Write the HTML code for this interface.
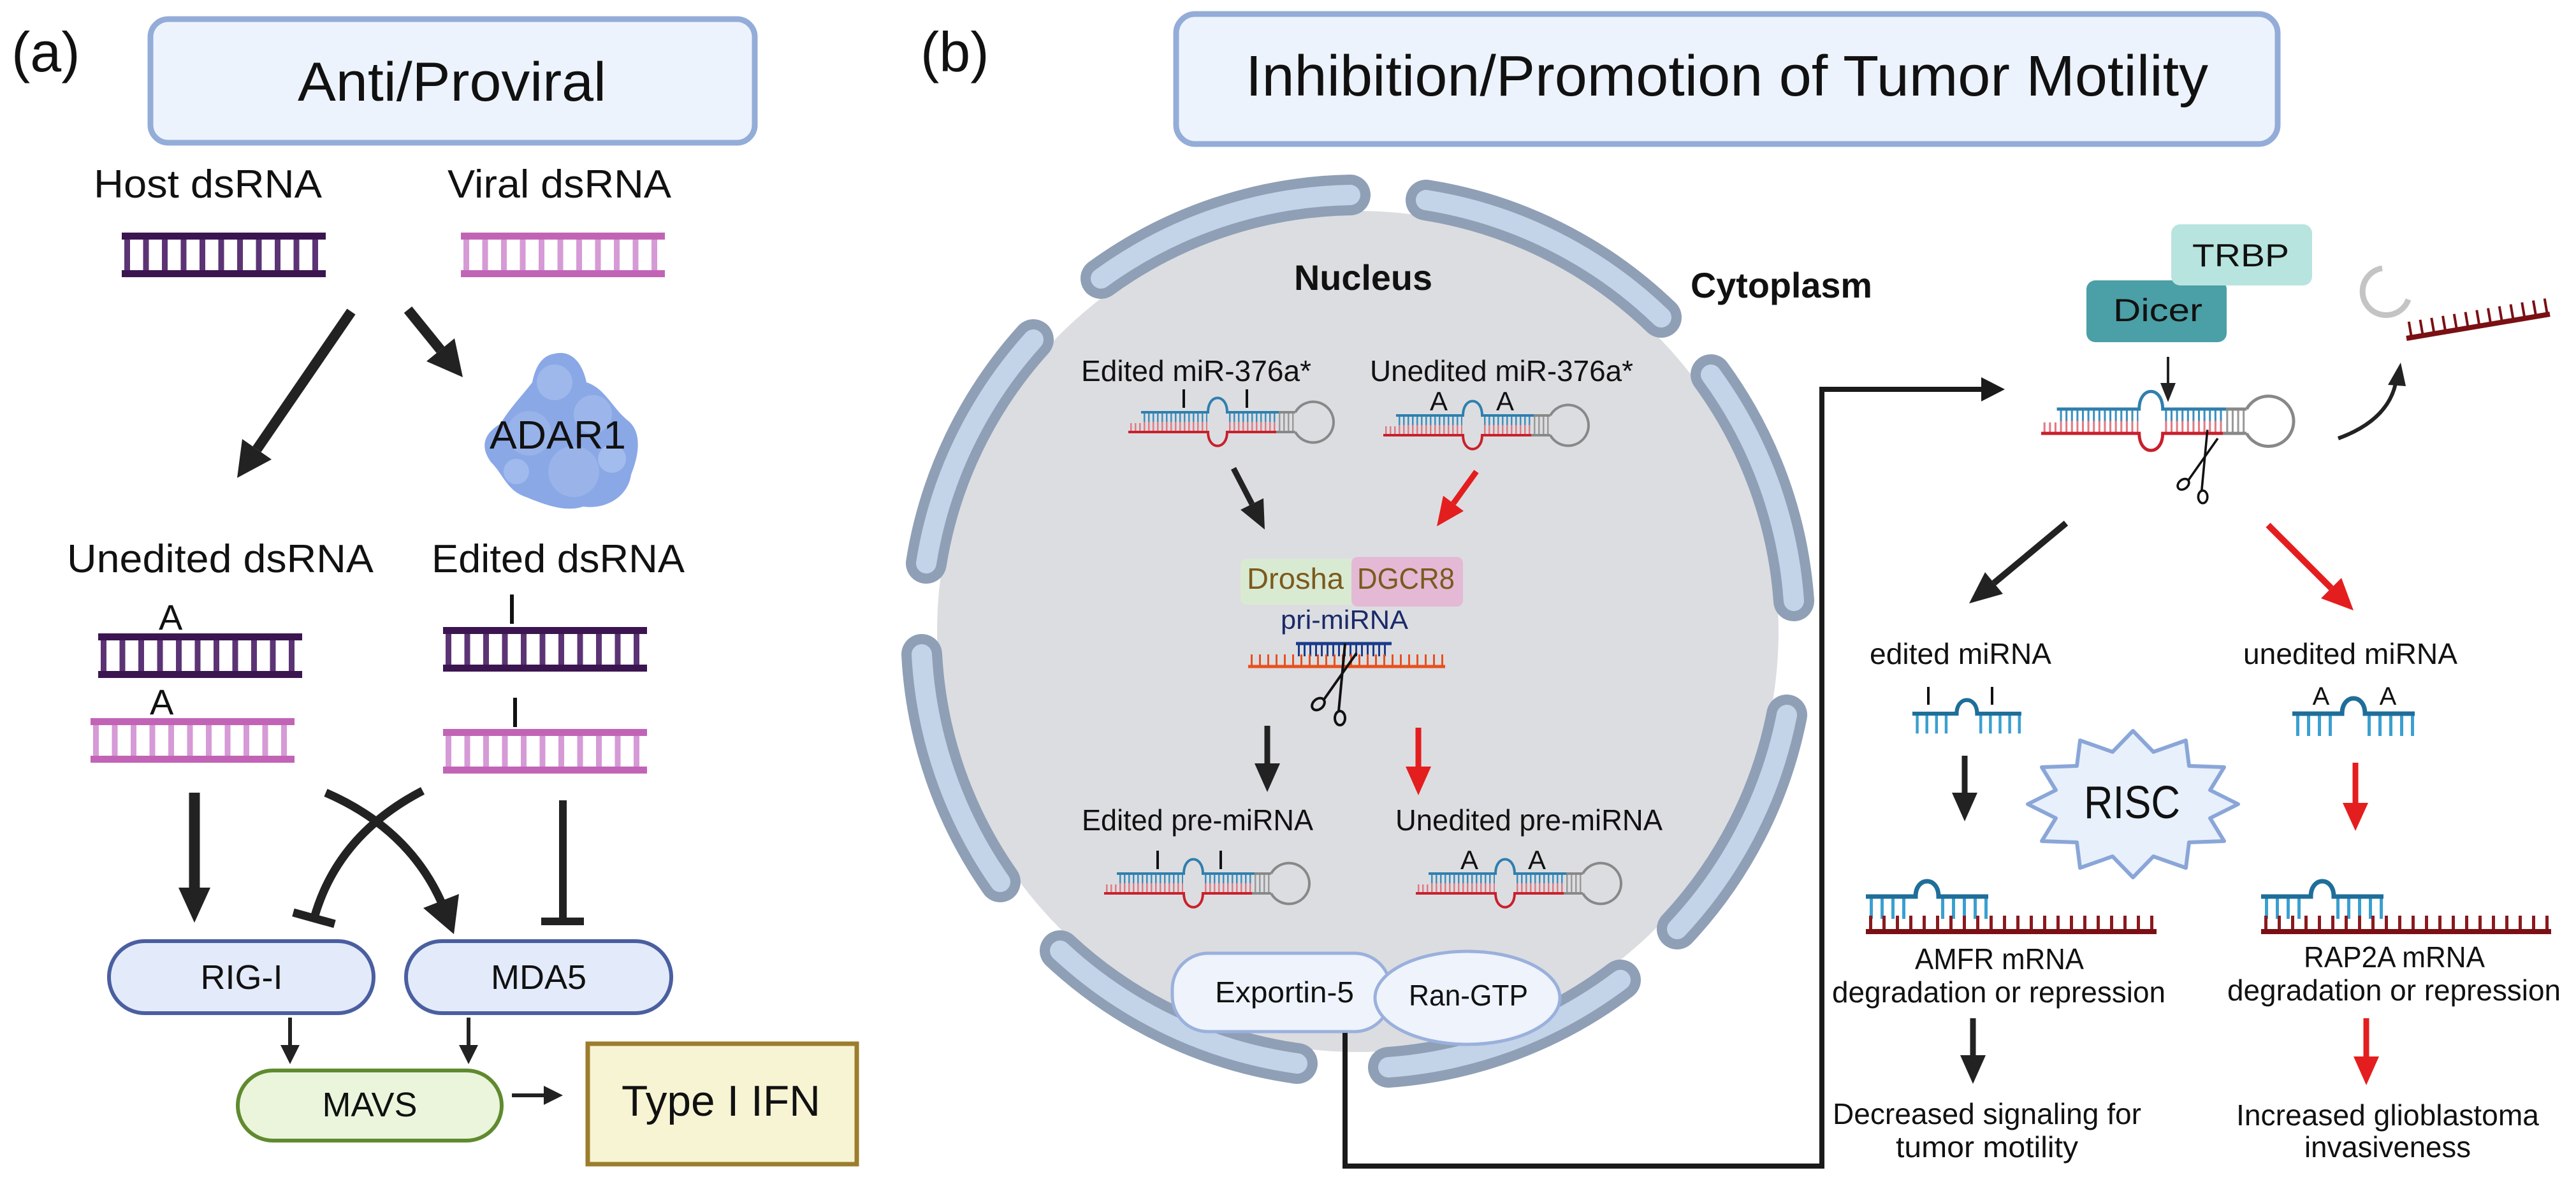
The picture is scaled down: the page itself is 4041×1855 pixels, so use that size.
<!DOCTYPE html>
<html><head><meta charset="utf-8"><style>html,body{margin:0;padding:0;background:#fff}svg{display:block}text{font-family:"Liberation Sans",sans-serif;fill:#111}</style></head>
<body>
<svg width="4041" height="1855" viewBox="0 0 4041 1855" xmlns="http://www.w3.org/2000/svg">
<defs>
<g id="ladD"><line x1="4" y1="35" x2="320" y2="35" stroke="#5c3475" stroke-width="52" stroke-dasharray="9 20.5"/><rect x="0" y="0" width="320" height="11" fill="#3b1550"/><rect x="0" y="59" width="320" height="11" fill="#3b1550"/></g>
<g id="ladP"><line x1="4" y1="35" x2="320" y2="35" stroke="#d69ad6" stroke-width="52" stroke-dasharray="9 20.5"/><rect x="0" y="0" width="320" height="11" fill="#c264b6"/><rect x="0" y="59" width="320" height="11" fill="#c264b6"/></g>
<g id="hp">
<line x1="24" y1="8" x2="124" y2="8" stroke="#3a8fbf" stroke-width="16" stroke-dasharray="2.5 4.5"/>
<line x1="24" y1="23" x2="124" y2="23" stroke="#e07a84" stroke-width="16" stroke-dasharray="2.5 4.5"/>
<line x1="158" y1="8" x2="232" y2="8" stroke="#3a8fbf" stroke-width="16" stroke-dasharray="2.5 4.5"/>
<line x1="158" y1="23" x2="232" y2="23" stroke="#e07a84" stroke-width="16" stroke-dasharray="2.5 4.5"/>
<line x1="3" y1="24" x2="22" y2="24" stroke="#e07a84" stroke-width="14" stroke-dasharray="2.5 4.5"/>
<line x1="236" y1="15" x2="262" y2="15" stroke="#999" stroke-width="30" stroke-dasharray="2.5 4.5"/>
<path d="M20,0 H125 C125,-30 155,-30 155,0 H236" stroke="#2f7fae" stroke-width="4" fill="none"/>
<path d="M0,31 H125 C125,60 155,60 155,31 H232" stroke="#c8202c" stroke-width="4" fill="none"/>
<path d="M236,0 H262 M232,31 H262" stroke="#888" stroke-width="4"/>
<path d="M262,0 A32 32 0 1 1 262,31" stroke="#888" stroke-width="4" fill="none"/>
</g>
<g id="mi">
<line x1="6" y1="18" x2="74" y2="18" stroke="#3aa0d0" stroke-width="34" stroke-dasharray="5 12"/>
<line x1="118" y1="18" x2="192" y2="18" stroke="#3aa0d0" stroke-width="34" stroke-dasharray="5 12"/>
<path d="M0,0 H78 C78,-32 114,-32 114,0 H192" stroke="#1f6e99" stroke-width="7" fill="none"/>
</g>
<g id="sc" fill="none" stroke="#111" stroke-width="4">
<ellipse cx="-30" cy="0" rx="11" ry="8" transform="rotate(-40 -30 0)"/>
<ellipse cx="4" cy="22" rx="8" ry="11"/>
<line x1="-22" y1="-6" x2="30" y2="-80"/>
<line x1="2" y1="11" x2="12" y2="-95"/>
</g>
</defs>

<!-- ============ PANEL A ============ -->
<text x="18" y="112" font-size="88">(a)</text>
<rect x="236" y="30" width="948" height="194" rx="28" fill="#edf3fc" stroke="#94acd8" stroke-width="9"/>
<text x="467" y="158" font-size="86" textLength="484" lengthAdjust="spacingAndGlyphs">Anti/Proviral</text>
<text x="147" y="310" font-size="62" textLength="358" lengthAdjust="spacingAndGlyphs">Host dsRNA</text>
<text x="702" y="310" font-size="62" textLength="351" lengthAdjust="spacingAndGlyphs">Viral dsRNA</text>
<use href="#ladD" x="191" y="365"/>
<use href="#ladP" x="723" y="365"/>

<line x1="551" y1="489" x2="403" y2="705" stroke="#222" stroke-width="16"/>
<polygon points="372,750 426,721 380,689" fill="#222"/>
<line x1="640" y1="486" x2="691" y2="549" stroke="#222" stroke-width="16"/>
<polygon points="726,592 713,531 669,567" fill="#222"/>

<g>
<path d="M870,555 C900,548 915,575 920,600 C950,610 960,640 985,660 C1010,680 1000,720 990,745 C985,780 950,800 915,795 C885,805 850,790 825,780 C795,770 790,745 770,725 C752,700 760,680 785,665 C800,640 820,620 835,600 C840,575 850,558 870,555 Z" fill="#8aa8e6"/>
<circle cx="870" cy="600" r="28" fill="#9fb8ec"/><circle cx="830" cy="680" r="35" fill="#98b2ea"/><circle cx="930" cy="650" r="30" fill="#9cb6ec"/><circle cx="900" cy="740" r="40" fill="#9ab4ea"/><circle cx="960" cy="720" r="22" fill="#a3bcee"/><circle cx="810" cy="740" r="20" fill="#a0baee"/>
</g>
<text x="768" y="704" font-size="62" textLength="214" lengthAdjust="spacingAndGlyphs">ADAR1</text>

<text x="105" y="898" font-size="62" textLength="481" lengthAdjust="spacingAndGlyphs">Unedited dsRNA</text>
<text x="677" y="898" font-size="62" textLength="397" lengthAdjust="spacingAndGlyphs">Edited dsRNA</text>

<text x="249" y="988" font-size="56">A</text>
<use href="#ladD" x="154" y="994"/>
<text x="235" y="1121" font-size="56">A</text>
<use href="#ladP" x="142" y="1127"/>
<rect x="800" y="933" width="6" height="46" fill="#111"/>
<use href="#ladD" x="695" y="984"/>
<rect x="805" y="1095" width="6" height="46" fill="#111"/>
<use href="#ladP" x="695" y="1144"/>

<line x1="305" y1="1244" x2="305" y2="1395" stroke="#222" stroke-width="17"/>
<polygon points="305,1448 280,1393 330,1393" fill="#222"/>
<path d="M663,1241 Q530,1310 493,1440" stroke="#222" stroke-width="13" fill="none"/>
<line x1="460" y1="1432" x2="525" y2="1450" stroke="#222" stroke-width="13"/>
<path d="M511,1244 Q640,1300 692,1415" stroke="#222" stroke-width="13" fill="none"/>
<polygon points="712,1466 720,1403 664,1425" fill="#222"/>
<line x1="883" y1="1256" x2="883" y2="1446" stroke="#222" stroke-width="12"/>
<line x1="849" y1="1446" x2="916" y2="1446" stroke="#222" stroke-width="12"/>

<rect x="171" y="1477" width="415" height="113" rx="56" fill="#e3eafa" stroke="#4a5fa0" stroke-width="6"/>
<text x="379" y="1552" font-size="54" text-anchor="middle">RIG-I</text>
<rect x="637" y="1477" width="416" height="113" rx="56" fill="#e3eafa" stroke="#4a5fa0" stroke-width="6"/>
<text x="845" y="1552" font-size="54" text-anchor="middle">MDA5</text>

<line x1="455" y1="1597" x2="455" y2="1645" stroke="#222" stroke-width="6"/>
<polygon points="455,1670 440,1640 470,1640" fill="#222"/>
<line x1="735" y1="1597" x2="735" y2="1645" stroke="#222" stroke-width="6"/>
<polygon points="735,1670 720,1640 750,1640" fill="#222"/>

<rect x="373" y="1680" width="414" height="110" rx="55" fill="#eaf5dc" stroke="#5f8a2e" stroke-width="6"/>
<text x="580" y="1752" font-size="54" text-anchor="middle">MAVS</text>
<line x1="803" y1="1719" x2="858" y2="1719" stroke="#222" stroke-width="6"/>
<polygon points="883,1719 853,1704 853,1734" fill="#222"/>
<rect x="922" y="1638" width="422" height="189" fill="#f7f4d4" stroke="#9c7d2c" stroke-width="7"/>
<text x="975" y="1751" font-size="68" textLength="312" lengthAdjust="spacingAndGlyphs">Type I IFN</text>

<!-- ============ PANEL B ============ -->
<text x="1444" y="112" font-size="88">(b)</text>
<rect x="1845" y="22" width="1728" height="204" rx="30" fill="#edf3fc" stroke="#94acd8" stroke-width="9"/>
<text x="1954" y="150" font-size="90" textLength="1510" lengthAdjust="spacingAndGlyphs">Inhibition/Promotion of Tumor Motility</text>

<circle cx="2130" cy="991" r="660" fill="#dcdde0"/>
<g fill="none" stroke-linecap="round">
<g stroke="#8f9fb6" stroke-width="64">
<path d="M1727,437 A685 685 0 0 1 2118,306"/>
<path d="M2237,314 A685 685 0 0 1 2606,498"/>
<path d="M2684,588 A685 685 0 0 1 2814,943"/>
<path d="M2803,1122 A685 685 0 0 1 2631,1458"/>
<path d="M2542,1538 A685 685 0 0 1 2178,1675"/>
<path d="M2035,1669 A685 685 0 0 1 1663,1492"/>
<path d="M1569,1384 A685 685 0 0 1 1446,1027"/>
<path d="M1453,884 A685 685 0 0 1 1621,533"/>
</g>
<g stroke="#c3d3e8" stroke-width="32">
<path d="M1727,437 A685 685 0 0 1 2118,306"/>
<path d="M2237,314 A685 685 0 0 1 2606,498"/>
<path d="M2684,588 A685 685 0 0 1 2814,943"/>
<path d="M2803,1122 A685 685 0 0 1 2631,1458"/>
<path d="M2542,1538 A685 685 0 0 1 2178,1675"/>
<path d="M2035,1669 A685 685 0 0 1 1663,1492"/>
<path d="M1569,1384 A685 685 0 0 1 1446,1027"/>
<path d="M1453,884 A685 685 0 0 1 1621,533"/>
</g>
</g>

<text x="2030" y="455" font-size="56" font-weight="bold" textLength="217" lengthAdjust="spacingAndGlyphs">Nucleus</text>
<text x="2652" y="467" font-size="56" font-weight="bold" textLength="285" lengthAdjust="spacingAndGlyphs">Cytoplasm</text>

<text x="1696" y="598" font-size="46" textLength="361" lengthAdjust="spacingAndGlyphs">Edited miR-376a*</text>
<text x="2149" y="598" font-size="46" textLength="413" lengthAdjust="spacingAndGlyphs">Unedited miR-376a*</text>
<rect x="1855" y="611" width="4" height="29" fill="#111"/><rect x="1954" y="611" width="4" height="29" fill="#111"/>
<use href="#hp" transform="translate(1770,647)"/>
<text x="2257" y="644" font-size="42" text-anchor="middle">A</text><text x="2361" y="644" font-size="42" text-anchor="middle">A</text>
<use href="#hp" transform="translate(2170,652)"/>

<line x1="1935" y1="735" x2="1964" y2="791" stroke="#222" stroke-width="9"/>
<polygon points="1984,831 1982,782 1946,800" fill="#222"/>
<line x1="2316" y1="740" x2="2280" y2="790" stroke="#e41e1e" stroke-width="9"/>
<polygon points="2254,826 2296,802 2264,778" fill="#e41e1e"/>

<rect x="1946" y="877" width="180" height="72" rx="10" fill="#d9ead2"/>
<rect x="2120" y="874" width="175" height="78" rx="10" fill="#e3b9d5"/>
<text x="1956" y="924" font-size="46" style="fill:#7b5a1e" textLength="152" lengthAdjust="spacingAndGlyphs">Drosha</text>
<text x="2129" y="924" font-size="46" style="fill:#7b5a1e" textLength="153" lengthAdjust="spacingAndGlyphs">DGCR8</text>
<text x="2009" y="987" font-size="42" style="fill:#1a2a6a" textLength="200" lengthAdjust="spacingAndGlyphs">pri-miRNA</text>
<line x1="2036" y1="1020" x2="2180" y2="1020" stroke="#1a3a8a" stroke-width="20" stroke-dasharray="3 6"/>
<line x1="2033" y1="1010" x2="2183" y2="1010" stroke="#1a3a8a" stroke-width="5"/>
<line x1="1962" y1="1036" x2="2267" y2="1036" stroke="#e8501e" stroke-width="18" stroke-dasharray="3 10"/>
<line x1="1958" y1="1046" x2="2267" y2="1046" stroke="#e8501e" stroke-width="5"/>
<use href="#sc" transform="translate(2098,1105)"/>

<line x1="1988" y1="1139" x2="1988" y2="1200" stroke="#222" stroke-width="9"/>
<polygon points="1988,1243 1968,1198 2008,1198" fill="#222"/>
<line x1="2225" y1="1142" x2="2225" y2="1205" stroke="#e41e1e" stroke-width="9"/>
<polygon points="2225,1248 2205,1203 2245,1203" fill="#e41e1e"/>

<text x="1697" y="1303" font-size="46" textLength="363" lengthAdjust="spacingAndGlyphs">Edited pre-miRNA</text>
<text x="2189" y="1303" font-size="46" textLength="419" lengthAdjust="spacingAndGlyphs">Unedited pre-miRNA</text>
<rect x="1814" y="1335" width="4" height="29" fill="#111"/><rect x="1913" y="1335" width="4" height="29" fill="#111"/>
<use href="#hp" transform="translate(1732,1371)"/>
<text x="2305" y="1364" font-size="42" text-anchor="middle">A</text><text x="2411" y="1364" font-size="42" text-anchor="middle">A</text>
<use href="#hp" transform="translate(2221,1371)"/>

<rect x="1839" y="1496" width="342" height="123" rx="56" fill="#eef3fc" stroke="#9ab0dc" stroke-width="5"/>
<ellipse cx="2302" cy="1566" rx="145" ry="73" fill="#eef3fc" stroke="#9ab0dc" stroke-width="5"/>
<text x="1906" y="1573" font-size="46" textLength="218" lengthAdjust="spacingAndGlyphs">Exportin-5</text>
<text x="2210" y="1578" font-size="46" textLength="187" lengthAdjust="spacingAndGlyphs">Ran-GTP</text>

<polyline points="2110,1621 2110,1830 2858,1830 2858,611 3112,611" fill="none" stroke="#1a1a1a" stroke-width="8"/>
<polygon points="3145,611 3108,592 3108,630" fill="#1a1a1a"/>

<rect x="3273" y="440" width="220" height="97" rx="14" fill="#4b9fa6"/>
<rect x="3406" y="352" width="221" height="96" rx="14" fill="#b8e4df"/>
<text x="3439" y="418" font-size="50" textLength="152" lengthAdjust="spacingAndGlyphs">TRBP</text>
<text x="3315" y="504" font-size="50" textLength="140" lengthAdjust="spacingAndGlyphs">Dicer</text>
<line x1="3401" y1="560" x2="3401" y2="603" stroke="#222" stroke-width="4"/>
<polygon points="3401,631 3389,601 3413,601" fill="#222"/>
<use href="#hp" transform="translate(3202,642) scale(1.23)"/>
<use href="#sc" transform="translate(3452,760) scale(0.9)"/>
<path d="M3668,688 Q3745,660 3758,602" stroke="#222" stroke-width="6" fill="none"/>
<polygon points="3766,569 3746,604 3774,606" fill="#222"/>
<path d="M3737,421 A37 37 0 1 0 3778,470" stroke="#c4c4c4" stroke-width="9" fill="none"/>
<line x1="3779" y1="518" x2="3996" y2="481" stroke="#7a1014" stroke-width="26" stroke-dasharray="4 14"/>
<line x1="3775" y1="531" x2="4000" y2="493" stroke="#7a1014" stroke-width="8"/>

<line x1="3241" y1="821" x2="3128" y2="915" stroke="#222" stroke-width="10"/>
<polygon points="3089,947 3142,932 3114,898" fill="#222"/>
<line x1="3558" y1="824" x2="3657" y2="923" stroke="#e41e1e" stroke-width="10"/>
<polygon points="3692,958 3673,907 3641,939" fill="#e41e1e"/>

<text x="2933" y="1042" font-size="46" textLength="285" lengthAdjust="spacingAndGlyphs">edited miRNA</text>
<text x="3519" y="1042" font-size="46" textLength="336" lengthAdjust="spacingAndGlyphs">unedited miRNA</text>
<rect x="3023" y="1078" width="4" height="28" fill="#111"/><rect x="3123" y="1078" width="4" height="28" fill="#111"/>
<use href="#mi" transform="translate(3000,1120) scale(0.89)"/>
<text x="3641" y="1106" font-size="40" text-anchor="middle">A</text><text x="3746" y="1106" font-size="40" text-anchor="middle">A</text>
<use href="#mi" transform="translate(3596,1120)"/>

<line x1="3082" y1="1186" x2="3082" y2="1246" stroke="#222" stroke-width="9"/>
<polygon points="3082,1289 3062,1244 3102,1244" fill="#222"/>
<line x1="3695" y1="1197" x2="3695" y2="1262" stroke="#e41e1e" stroke-width="9"/>
<polygon points="3695,1304 3675,1260 3715,1260" fill="#e41e1e"/>

<polygon transform="translate(3346,1262)" points="165,0 121,22 143,58 88,60 83,100 32,82 0,115 -32,82 -83,100 -88,60 -143,58 -121,22 -165,0 -121,-22 -143,-58 -88,-60 -83,-100 -32,-82 0,-115 32,-82 83,-100 88,-60 143,-58 121,-22" fill="#e8f0fb" stroke="#8aa6d8" stroke-width="6" stroke-linejoin="round"/>
<text x="3269" y="1284" font-size="72" textLength="151" lengthAdjust="spacingAndGlyphs">RISC</text>

<use href="#mi" transform="translate(2927,1407)"/>
<line x1="2932" y1="1449" x2="3383" y2="1449" stroke="#8a1a1e" stroke-width="24" stroke-dasharray="5 16"/>
<line x1="2927" y1="1462" x2="3383" y2="1462" stroke="#7a1014" stroke-width="8"/>
<use href="#mi" transform="translate(3547,1407)"/>
<line x1="3552" y1="1449" x2="4002" y2="1449" stroke="#8a1a1e" stroke-width="24" stroke-dasharray="5 16"/>
<line x1="3547" y1="1462" x2="4002" y2="1462" stroke="#7a1014" stroke-width="8"/>

<text x="3004" y="1521" font-size="46" textLength="265" lengthAdjust="spacingAndGlyphs">AMFR mRNA</text>
<text x="2874" y="1573" font-size="46" textLength="523" lengthAdjust="spacingAndGlyphs">degradation or repression</text>
<text x="3614" y="1518" font-size="46" textLength="284" lengthAdjust="spacingAndGlyphs">RAP2A mRNA</text>
<text x="3494" y="1570" font-size="46" textLength="523" lengthAdjust="spacingAndGlyphs">degradation or repression</text>

<line x1="3095" y1="1598" x2="3095" y2="1658" stroke="#222" stroke-width="9"/>
<polygon points="3095,1701 3075,1656 3115,1656" fill="#222"/>
<line x1="3712" y1="1598" x2="3712" y2="1660" stroke="#e41e1e" stroke-width="9"/>
<polygon points="3712,1703 3692,1658 3732,1658" fill="#e41e1e"/>

<text x="2875" y="1764" font-size="46" textLength="484" lengthAdjust="spacingAndGlyphs">Decreased signaling for</text>
<text x="2974" y="1816" font-size="46" textLength="286" lengthAdjust="spacingAndGlyphs">tumor motility</text>
<text x="3508" y="1766" font-size="46" textLength="475" lengthAdjust="spacingAndGlyphs">Increased glioblastoma</text>
<text x="3615" y="1816" font-size="46" textLength="261" lengthAdjust="spacingAndGlyphs">invasiveness</text>
</svg>
</body></html>
